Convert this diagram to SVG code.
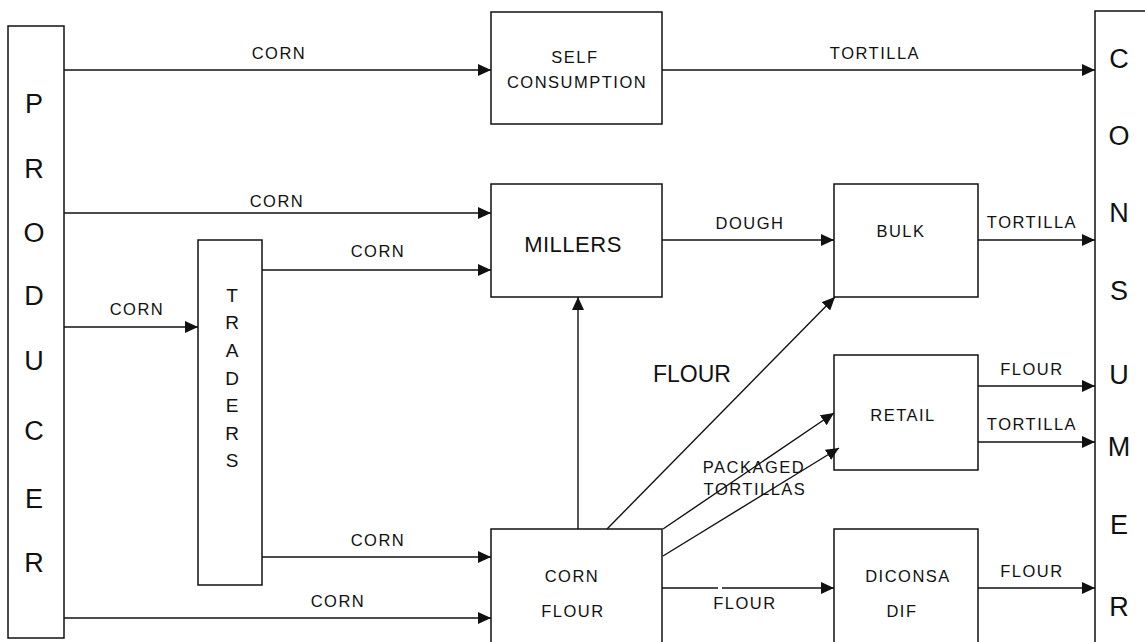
<svg xmlns="http://www.w3.org/2000/svg" width="1145" height="642" viewBox="0 0 1145 642">
<style>
.box{fill:#fff;stroke:#111;stroke-width:1.5}
.ln{fill:none;stroke:#111;stroke-width:1.4}
.t{font-family:"Liberation Sans",Arial,sans-serif;fill:#111;text-anchor:middle}
.s{font-size:16.5px;letter-spacing:1.5px}
.m{font-size:22px;letter-spacing:0.5px}
.b{font-size:27px}
.tr{font-size:19px}
</style>
<defs>
<marker id="ah" markerUnits="userSpaceOnUse" markerWidth="14" markerHeight="12" refX="13" refY="6" orient="auto">
<path d="M0,0 L13,6 L0,12 Z" fill="#111"/>
</marker>
</defs>
<rect width="1145" height="642" fill="#fff"/>

<g id="producer">
<rect class="box" x="8" y="26" width="56" height="612"/>
<text class="t b" x="34" y="113">P</text>
<text class="t b" x="34" y="178">R</text>
<text class="t b" x="34" y="242">O</text>
<text class="t b" x="34" y="305">D</text>
<text class="t b" x="34" y="370">U</text>
<text class="t b" x="34" y="440">C</text>
<text class="t b" x="34" y="508">E</text>
<text class="t b" x="34" y="572">R</text>
</g>

<g id="consumer">
<rect class="box" x="1095" y="11" width="60" height="640"/>
<text class="t b" x="1119" y="68">C</text>
<text class="t b" x="1119" y="145">O</text>
<text class="t b" x="1119" y="222">N</text>
<text class="t b" x="1119" y="300">S</text>
<text class="t b" x="1119" y="384">U</text>
<text class="t b" x="1119" y="456">M</text>
<text class="t b" x="1119" y="534">E</text>
<text class="t b" x="1119" y="616">R</text>
</g>

<g id="traders">
<rect class="box" x="198" y="240" width="64" height="345"/>
<text class="t tr" x="232" y="302">T</text>
<text class="t tr" x="232" y="329">R</text>
<text class="t tr" x="232" y="357">A</text>
<text class="t tr" x="232" y="385">D</text>
<text class="t tr" x="232" y="412">E</text>
<text class="t tr" x="232" y="440">R</text>
<text class="t tr" x="232" y="467">S</text>
</g>

<g id="self-consumption">
<rect class="box" x="491" y="12" width="171" height="112"/>
<text class="t s" x="575" y="63">SELF</text>
<text class="t s" x="577" y="88">CONSUMPTION</text>
</g>

<g id="millers">
<rect class="box" x="491" y="184" width="171" height="113"/>
<text class="t m" x="573" y="252">MILLERS</text>
</g>

<g id="bulk">
<rect class="box" x="834" y="184" width="144" height="113"/>
<text class="t s" x="901" y="237">BULK</text>
</g>

<g id="retail">
<rect class="box" x="834" y="355" width="144" height="115"/>
<text class="t s" x="903" y="421">RETAIL</text>
</g>

<g id="corn-flour">
<rect class="box" x="491" y="529" width="171" height="125"/>
<text class="t s" x="572" y="582">CORN</text>
<text class="t s" x="573" y="617">FLOUR</text>
</g>

<g id="diconsa">
<rect class="box" x="834" y="529" width="144" height="125"/>
<text class="t s" x="908" y="582">DICONSA</text>
<text class="t s" x="902" y="617">DIF</text>
</g>

<g id="connectors">
<line class="ln" x1="64" y1="70" x2="491" y2="70" marker-end="url(#ah)"/>
<line class="ln" x1="662" y1="70" x2="1095" y2="70" marker-end="url(#ah)"/>
<line class="ln" x1="64" y1="213" x2="491" y2="213" marker-end="url(#ah)"/>
<line class="ln" x1="262" y1="270" x2="491" y2="270" marker-end="url(#ah)"/>
<line class="ln" x1="64" y1="327" x2="198" y2="327" marker-end="url(#ah)"/>
<line class="ln" x1="262" y1="557" x2="491" y2="557" marker-end="url(#ah)"/>
<line class="ln" x1="64" y1="618" x2="491" y2="618" marker-end="url(#ah)"/>
<line class="ln" x1="662" y1="240" x2="834" y2="240" marker-end="url(#ah)"/>
<line class="ln" x1="978" y1="240" x2="1095" y2="240" marker-end="url(#ah)"/>
<line class="ln" x1="578" y1="529" x2="578" y2="297" marker-end="url(#ah)"/>
<line class="ln" x1="607" y1="529" x2="835" y2="297" marker-end="url(#ah)"/>
<line class="ln" x1="663" y1="529" x2="834" y2="413" marker-end="url(#ah)"/>
<line class="ln" x1="663" y1="556" x2="839" y2="448" marker-end="url(#ah)"/>
<line class="ln" x1="978" y1="386" x2="1095" y2="386" marker-end="url(#ah)"/>
<line class="ln" x1="978" y1="442" x2="1095" y2="442" marker-end="url(#ah)"/>
<line class="ln" x1="662" y1="588" x2="718" y2="588"/>
<line class="ln" x1="722" y1="588" x2="834" y2="588" marker-end="url(#ah)"/>
<line class="ln" x1="978" y1="588" x2="1095" y2="588" marker-end="url(#ah)"/>

<text class="t s" x="279" y="59">CORN</text>
<text class="t s" x="875" y="59">TORTILLA</text>
<text class="t s" x="277" y="207">CORN</text>
<text class="t s" x="378" y="257">CORN</text>
<text class="t s" x="137" y="315">CORN</text>
<text class="t s" x="378" y="546">CORN</text>
<text class="t s" x="338" y="607">CORN</text>
<text class="t s" x="750" y="229">DOUGH</text>
<text class="t s" x="1032" y="228">TORTILLA</text>
<text class="t" style="font-size:23px" x="692" y="382">FLOUR</text>
<text class="t s" x="754" y="473">PACKAGED</text>
<text class="t s" x="755" y="495">TORTILLAS</text>
<text class="t s" x="1032" y="375">FLOUR</text>
<text class="t s" x="1032" y="430">TORTILLA</text>
<text class="t s" x="745" y="609">FLOUR</text>
<text class="t s" x="1032" y="577">FLOUR</text>
</g>
</svg>
